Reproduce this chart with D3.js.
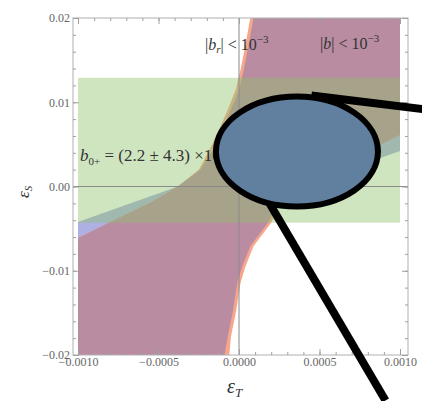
<!DOCTYPE html>
<html>
<head>
<meta charset="utf-8">
<script src="https://cdn.jsdelivr.net/npm/d3@7"></script>
<style>
body { margin: 0; background: #fff; }
text { font-family: "Liberation Serif", "DejaVu Serif", serif; }
</style>
</head>
<body>
<div id="main"></div>
<script>
// |b| < 10^-3 band (overlap region), upper-left and lower-right edges
var ulX = [-0.00100, -0.00080, -0.00055, -0.00038, -0.00024, -0.00017, -0.00011, -0.00005, 0.00000, 0.00003, 0.00006, 0.00009];
var ulY = [-0.0061, -0.0042, -0.0019, 0.0000, 0.0020, 0.0041, 0.0065, 0.0091, 0.0115, 0.0139, 0.0168, 0.0200];
var lrX = [-0.00009, -0.00007, -0.00004, -0.00001, 0.00002, 0.00007, 0.00018, 0.00024, 0.00038, 0.00055, 0.00080, 0.00100];
var lrY = [-0.0200, -0.0178, -0.0150, -0.0114, -0.0095, -0.0071, -0.0043, -0.0020, 0.0000, 0.0019, 0.0042, 0.0061];

// blue band (wider where flat)
var blueUlX = [-0.00100, -0.00069, -0.00038, -0.00024, -0.00017, -0.00011, -0.00005, 0.00000, 0.00003, 0.00006, 0.00009];
var blueUlY = [-0.0042, -0.0021, 0.0000, 0.0020, 0.0041, 0.0065, 0.0091, 0.0115, 0.0139, 0.0168, 0.0200];
var blueLrX = [-0.00009, -0.00007, -0.00004, -0.00001, 0.00002, 0.00007, 0.00018, 0.00024, 0.00038, 0.00069, 0.00100];
var blueLrY = [-0.0200, -0.0178, -0.0150, -0.0114, -0.0095, -0.0071, -0.0043, -0.0020, 0.0000, 0.0021, 0.0042];

// |b_r| < 10^-3 band (wider where steep)
var redUlX = [-0.00100, -0.00055, -0.00038, -0.00025, -0.00019, -0.00013, -0.00007, -0.00002, 0.00001, 0.00004, 0.00007];
var redUlY = [-0.0061, -0.0019, 0.0000, 0.0020, 0.0041, 0.0065, 0.0091, 0.0115, 0.0139, 0.0168, 0.0200];
var redLrX = [-0.00006, -0.00005, -0.00002, 0.00001, 0.00004, 0.00009, 0.00020, 0.00025, 0.00038, 0.00055, 0.00100];
var redLrY = [-0.0200, -0.0178, -0.0150, -0.0114, -0.0095, -0.0071, -0.0043, -0.0020, 0.0000, 0.0019, 0.0061];

// b0+ band
var greenLow = -0.0043;
var greenHigh = 0.0129;

var xTicks = [-0.001, -0.0005, 0, 0.0005, 0.001];
var yTicks = [-0.02, -0.01, 0, 0.01, 0.02];

// magnifier annotation (data units)
var lensCenter = [0.00036, 0.00415];
var lensRadius = [0.000503, 0.00653];
var lensLines = [
    [[0.00045, 0.0108], [0.00114, 0.0092]],
    [[0.00018, -0.0017], [0.00091, -0.0254]]
];

var w = 422;
var h = 401;

var svg = d3.select("#main")
    .append("svg")
    .attr("width", w)
    .attr("height", h);

var x = d3.scaleLinear().domain([-0.001, 0.001]).range([78, 400]);
var y = d3.scaleLinear().domain([-0.02, 0.02]).range([355, 18]);

var frameL = 73, frameR = 408;

function band(uX, uY, lX, lY) {
    var pts = [];
    for (var i = 0; i < uX.length; i++) pts.push([uX[i], uY[i]]);
    pts.push([0.001, 0.02]);
    for (var j = lX.length - 1; j >= 0; j--) pts.push([lX[j], lY[j]]);
    pts.push([-0.001, -0.02]);
    return pts;
}

var line = d3.line()
    .x(function(d) { return x(d[0]); })
    .y(function(d) { return y(d[1]); });

svg.append("path")
    .attr("d", line(band(blueUlX, blueUlY, blueLrX, blueLrY)) + "Z")
    .attr("fill", "#aeb0e2");

svg.append("path")
    .attr("d", line(band(redUlX, redUlY, redLrX, redLrY)) + "Z")
    .attr("fill", "#f6a68c");

svg.append("path")
    .attr("d", line(band(ulX, ulY, lrX, lrY)) + "Z")
    .attr("fill", "#b98ca2");

// green rectangle on top, translucent
svg.append("rect")
    .attr("x", x(-0.001))
    .attr("y", y(greenHigh))
    .attr("width", x(0.001) - x(-0.001))
    .attr("height", y(greenLow) - y(greenHigh))
    .attr("fill", "rgb(144,195,109)")
    .attr("fill-opacity", 0.43);

// zero lines
svg.append("line")
    .attr("x1", x(0)).attr("x2", x(0))
    .attr("y1", y(0.02)).attr("y2", y(-0.02))
    .attr("stroke", "#8a8a8a").attr("stroke-width", 1);
svg.append("line")
    .attr("x1", frameL).attr("x2", frameR)
    .attr("y1", y(0)).attr("y2", y(0))
    .attr("stroke", "#8a8a8a").attr("stroke-width", 1);

// frame
svg.append("rect")
    .attr("x", frameL).attr("y", y(0.02))
    .attr("width", frameR - frameL).attr("height", y(-0.02) - y(0.02))
    .attr("fill", "none").attr("stroke", "#b0b0b0").attr("stroke-width", 1);

var xMinor = d3.range(-10, 11).map(function(i) { return i * 0.0001; });
var yMinor = d3.range(-10, 11).map(function(i) { return i * 0.002; });

function styleAxis(g) {
    g.select(".domain").remove();
    g.selectAll("line").attr("stroke", "#a0a0a0");
    g.selectAll("text")
        .attr("fill", "#666")
        .style("font-family", "'Liberation Serif', serif")
        .style("font-size", "12px");
}

// bottom
svg.append("g").attr("transform", "translate(0," + y(-0.02) + ")")
    .call(d3.axisBottom(x).tickValues(xMinor).tickFormat("").tickSize(-3)).call(styleAxis);
svg.append("g").attr("transform", "translate(0," + y(-0.02) + ")")
    .call(d3.axisBottom(x).tickValues(xTicks).tickFormat(d3.format(".4f")).tickSize(-6).tickPadding(2))
    .call(styleAxis);
// top
svg.append("g").attr("transform", "translate(0," + y(0.02) + ")")
    .call(d3.axisTop(x).tickValues(xMinor).tickFormat("").tickSize(-3)).call(styleAxis);
svg.append("g").attr("transform", "translate(0," + y(0.02) + ")")
    .call(d3.axisTop(x).tickValues(xTicks).tickFormat("").tickSize(-6)).call(styleAxis);
// left
svg.append("g").attr("transform", "translate(" + frameL + ",0)")
    .call(d3.axisLeft(y).tickValues(yMinor).tickFormat("").tickSize(-3)).call(styleAxis);
svg.append("g").attr("transform", "translate(" + frameL + ",0)")
    .call(d3.axisLeft(y).tickValues(yTicks).tickFormat(d3.format(".2f")).tickSize(-6).tickPadding(3))
    .call(styleAxis);
// right
svg.append("g").attr("transform", "translate(" + frameR + ",0)")
    .call(d3.axisRight(y).tickValues(yMinor).tickFormat("").tickSize(-3)).call(styleAxis);
svg.append("g").attr("transform", "translate(" + frameR + ",0)")
    .call(d3.axisRight(y).tickValues(yTicks).tickFormat("").tickSize(-6)).call(styleAxis);

// axis labels
var xl = svg.append("text")
    .attr("x", 227).attr("y", 393)
    .style("font-size", "20px").style("font-style", "italic").attr("fill", "#333");
xl.append("tspan").text("ε");
xl.append("tspan").attr("dy", 4).style("font-size", "13px").text("T");

var yl = svg.append("text")
    .attr("transform", "translate(29,198) rotate(-90)")
    .style("font-size", "17px").style("font-style", "italic").attr("fill", "#333");
yl.append("tspan").text("ε");
yl.append("tspan").attr("dy", 3).style("font-size", "11px").text("S");

// region labels
function bound(tx, ty, sub) {
    var t = svg.append("text").attr("x", tx).attr("y", ty)
        .style("font-size", "16px").attr("fill", "#333");
    t.append("tspan").text("|");
    t.append("tspan").style("font-style", "italic").text("b");
    if (sub) t.append("tspan").attr("dy", 3).style("font-size", "11px").style("font-style", "italic").text(sub);
    t.append("tspan").attr("dy", sub ? -3 : 0).text("| < 10");
    t.append("tspan").attr("dy", -7).style("font-size", "11px").text("−3");
}
bound(205, 50, "r");
bound(320, 49, null);

var bt = svg.append("text").attr("x", 80).attr("y", 161)
    .style("font-size", "17px").attr("fill", "#333");
bt.append("tspan").style("font-style", "italic").text("b");
bt.append("tspan").attr("dy", 4).style("font-size", "11px").text("0+");
bt.append("tspan").attr("dy", -4).text(" = (2.2 ± 4.3) ×10");
bt.append("tspan").attr("dy", -7).style("font-size", "11px").text("−3");

// magnifier
svg.selectAll(".lens-line")
    .data(lensLines)
    .enter()
    .append("line")
    .attr("class", "lens-line")
    .attr("x1", function(d) { return x(d[0][0]); })
    .attr("y1", function(d) { return y(d[0][1]); })
    .attr("x2", function(d) { return x(d[1][0]); })
    .attr("y2", function(d) { return y(d[1][1]); })
    .attr("stroke", "#000")
    .attr("stroke-width", 8);

svg.append("ellipse")
    .attr("cx", x(lensCenter[0]))
    .attr("cy", y(lensCenter[1]))
    .attr("rx", x(lensCenter[0] + lensRadius[0]) - x(lensCenter[0]))
    .attr("ry", y(lensCenter[1] - lensRadius[1]) - y(lensCenter[1]))
    .attr("fill", "#61809f")
    .attr("stroke", "#000")
    .attr("stroke-width", 6);
</script>
</body>
</html>
